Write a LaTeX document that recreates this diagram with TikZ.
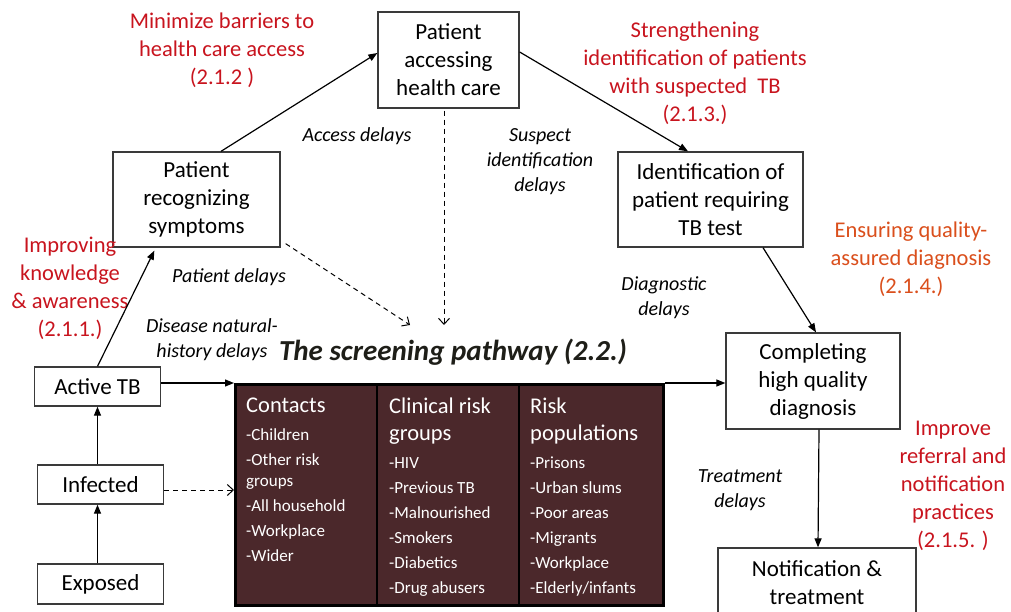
\documentclass[tikz,border=0pt]{standalone}
\usepackage{fontspec}
\setmainfont{Carlito}
\usetikzlibrary{arrows.meta,calc}
\definecolor{lred}{HTML}{C8141E}
\definecolor{lorange}{HTML}{DA4F1C}
\definecolor{darkfill}{HTML}{4B282B}
\definecolor{boxline}{HTML}{3A3A3A}
\definecolor{titlecol}{HTML}{1E1E18}
\newcommand\colhead{\fontsize{22.5}{29}\selectfont}
\begin{document}
\begin{tikzpicture}[x=1pt,y=-1pt,
  box/.style={draw=boxline, line width=1.3pt, align=center, inner sep=0pt, font=\fontsize{23}{28}\selectfont},
  goal/.style={text=lred, align=center, font=\fontsize{22.5}{28}\selectfont},
  goalo/.style={goal, text=lorange},
  delay/.style={align=center, font=\fontsize{20}{25}\selectfont\itshape},
  arr/.style={line width=1.2pt, -{Triangle[length=9pt,width=7pt]}},
  darr/.style={line width=1pt, dash pattern=on 5pt off 4pt, -{Straight Barb[length=6pt,width=11pt]}},
  coltext/.style={anchor=north west, align=left, text=white, inner sep=0pt, font=\fontsize{17}{25}\selectfont}
]
\useasboundingbox (0,0) rectangle (1011,612);

% boxes
\node[box, minimum width=141pt, minimum height=96pt] (acc) at (448.5,60) {Patient\\accessing\\health care};
\node[box, minimum width=167pt, minimum height=95pt] (rec) at (196.5,199.5) {Patient\\recognizing\\symptoms};
\node[box, minimum width=185pt, minimum height=95pt] (ident) at (710.5,199.5) {Identification of\\patient requiring\\TB test};
\node[box, minimum width=174pt, minimum height=96pt] (comp) at (813,381) {Completing\\high quality\\diagnosis};
\node[box, minimum width=198pt, minimum height=70pt] (notif) at (817,583) {Notification \&\\treatment};
\node[box, minimum width=126pt, minimum height=39pt] (active) at (97.5,386.5) {Active TB};
\node[box, minimum width=126pt, minimum height=39pt] (infected) at (100.5,484.5) {Infected};
\node[box, minimum width=126pt, minimum height=40pt] (exposed) at (100.5,584) {Exposed};

% screening pathway box
\node[draw=black, line width=3pt, fill=darkfill, minimum width=428pt, minimum height=221pt, inner sep=0pt, anchor=north west] (dark) at (234,383) {};
\draw[line width=2pt] ($(dark.north west)+(143,0)$) -- ($(dark.south west)+(143,0)$);
\draw[line width=2pt] ($(dark.north west)+(285,0)$) -- ($(dark.south west)+(285,0)$);
\node[coltext] (c1) at ($(dark.north west)+(12,15)$) {{\colhead Contacts}\\[3pt]-Children\\-Other risk\\[-4pt]groups\\-All household\\-Workplace\\-Wider};
\node[coltext] (c2) at ($(dark.north west)+(155,15)$) {{\colhead Clinical risk}\\[2pt]{\colhead groups}\\[3pt]-HIV\\-Previous TB\\-Malnourished\\-Smokers\\-Diabetics\\-Drug abusers};
\node[coltext] (c3) at ($(dark.north west)+(296,15)$) {{\colhead Risk}\\[2pt]{\colhead populations}\\[3pt]-Prisons\\-Urban slums\\-Poor areas\\-Migrants\\-Workplace\\-Elderly/infants};

% title
\node[font=\fontsize{29}{33}\selectfont\bfseries\itshape, text=titlecol] (title) at (453,352) {The screening pathway (2.2.)};

% goals
\node[goal] (g212) at (222,50) {Minimize barriers to\\health care access\\(2.1.2 )};
\node[goal] (g213) at (695,73) {Strengthening\\identification of patients\\with suspected\ \ TB\\(2.1.3.)};
\node[goal] (g211) at (70,288) {Improving\\knowledge\\\& awareness\\(2.1.1.)};
\node[goalo] (g214) at (911,259) {Ensuring quality-\\assured diagnosis\\(2.1.4.)};
\node[goal] (g215) at (953,486) {Improve\\referral and\\notification\\practices\\(2.1.5. )};

% delays
\node[delay] (d1) at (357,136) {Access delays};
\node[delay] (d2) at (540,162) {Suspect\\identification\\delays};
\node[delay] (d3) at (229,277) {Patient delays};
\node[delay] (d4) at (664,298) {Diagnostic\\delays};
\node[delay] (d5) at (212,340) {Disease natural-\\history delays};
\node[delay] (d6) at (740,490) {Treatment\\delays};

% connectors
\draw[arr] ($(rec.north)+(24.5,0)$) -- ($(acc.west)+(0,-7)$);
\draw[arr] ($(acc.east)+(0,-8)$) -- ($(ident.north)+(-22.5,0)$);
\draw[arr] ($(ident.south)+(52.5,0)$) -- ($(comp.north)+(3,0)$);
\draw[arr] ($(comp.south)+(6,0)$) -- ($(notif.north)+(1,0)$);
\draw[arr] (active.north) -- ($(rec.south west)+(42,3)$);
\draw[arr] (infected.north -| active.north) -- (active.south);
\draw[arr] (exposed.north -| active.north) -- (infected.south -| active.south);
\draw[arr] (active.east |- dark.north west) -- (dark.north west);
\draw[arr] (dark.north east) -- (dark.north east -| comp.west);
\draw[darr] ($(infected.east)+(0,5.5)$) -- ($(infected.east -| dark.west)+(0,5.5)$);
\coordinate (p1) at (410,325);
\coordinate (p2) at (444,325);
\draw[darr] ($(rec.south east)+(5,-4)$) -- (p1);
\draw[darr] ($(acc.south)+(-4.5,2)$) -- (p2);
\end{tikzpicture}
\end{document}
